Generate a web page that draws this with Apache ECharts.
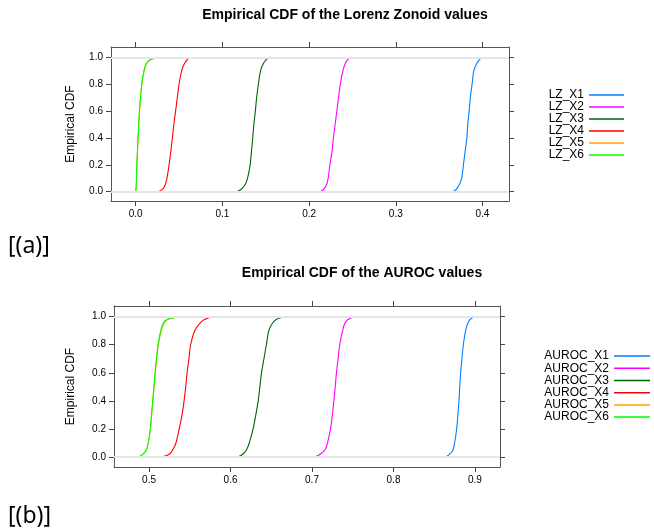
<!DOCTYPE html>
<html>
<head>
<meta charset="utf-8">
<script src="https://cdn.jsdelivr.net/npm/echarts@6/dist/echarts.min.js"></script>
<style>html,body{margin:0;padding:0;background:#fff;}#c{width:654px;height:530px;}</style>
</head>
<body>
<div id="c"></div>
<script>
// cumulative probability levels at which quantiles were read
const probs = [0, 0.02, 0.05, 0.1, 0.2, 0.3, 0.4, 0.5, 0.6, 0.7, 0.8, 0.9, 0.95, 0.98, 1];

// Lorenz Zonoid quantiles
const lzNames = ['LZ_X1', 'LZ_X2', 'LZ_X3', 'LZ_X4', 'LZ_X5', 'LZ_X6'];
const lzX1 = [0.366, 0.370, 0.373, 0.376, 0.378, 0.380, 0.382, 0.383, 0.3846, 0.386, 0.388, 0.390, 0.393, 0.396, 0.400];
const lzX2 = [0.213, 0.217, 0.220, 0.222, 0.224, 0.2265, 0.228, 0.230, 0.232, 0.234, 0.236, 0.239, 0.2415, 0.244, 0.249];
const lzX3 = [0.117, 0.122, 0.126, 0.129, 0.132, 0.1335, 0.135, 0.1363, 0.138, 0.1395, 0.1415, 0.144, 0.147, 0.150, 0.155];
const lzX4 = [0.026, 0.031, 0.034, 0.036, 0.0385, 0.0405, 0.0423, 0.044, 0.046, 0.048, 0.050, 0.053, 0.056, 0.059, 0.063];
const lzX5 = [0.0, 0.0003, 0.0006, 0.0009, 0.0014, 0.002, 0.0028, 0.0036, 0.0044, 0.0056, 0.0071, 0.0097, 0.0123, 0.0165, 0.025];
const lzX6 = [0.0, 0.0003, 0.0006, 0.0009, 0.0013, 0.002, 0.0027, 0.0035, 0.0043, 0.0055, 0.007, 0.0095, 0.012, 0.016, 0.026];

// AUROC quantiles
const auNames = ['AUROC_X1', 'AUROC_X2', 'AUROC_X3', 'AUROC_X4', 'AUROC_X5', 'AUROC_X6'];
const auX1 = [0.864, 0.869, 0.873, 0.875, 0.8775, 0.879, 0.8803, 0.8813, 0.8824, 0.884, 0.8857, 0.8885, 0.891, 0.894, 0.899];
const auX2 = [0.7035, 0.710, 0.7158, 0.719, 0.7227, 0.725, 0.7268, 0.7285, 0.730, 0.732, 0.734, 0.7375, 0.740, 0.744, 0.752];
const auX3 = [0.609, 0.615, 0.6195, 0.623, 0.6277, 0.631, 0.634, 0.636, 0.638, 0.641, 0.644, 0.647, 0.651, 0.656, 0.666];
const auX4 = [0.516, 0.525, 0.529, 0.533, 0.537, 0.5405, 0.543, 0.545, 0.5467, 0.549, 0.551, 0.556, 0.562, 0.568, 0.578];
const auX5 = [0.4875, 0.4925, 0.4965, 0.499, 0.5016, 0.5032, 0.5047, 0.5062, 0.5077, 0.5095, 0.5115, 0.5150, 0.518, 0.523, 0.537];
const auX6 = [0.4877, 0.4926, 0.4967, 0.499, 0.5016, 0.503, 0.5045, 0.506, 0.5074, 0.509, 0.511, 0.5143, 0.517, 0.522, 0.5377];

// tick labels
const lzTicks = [0, 0.1, 0.2, 0.3, 0.4];
const auTicks = [0.5, 0.6, 0.7, 0.8, 0.9];
const yTicks = [0, 0.2, 0.4, 0.6, 0.8, 1.0];

const colors = ['#0080ff', '#ff00ff', '#006400', '#ff0000', '#ffa500', '#00ff00'];
const FONT = 'Liberation Sans, Arial, sans-serif';

const chart = echarts.init(document.getElementById('c'));

function pairs(xs) { return xs.map((x, i) => [x, probs[i]]); }

function mkX(gi, pos, ticks, min, max, labels) {
  return {
    type: 'value', gridIndex: gi, position: pos, min: min, max: max,
    axisLine: { show: true, onZero: false, lineStyle: { color: '#555', width: 1 } },
    axisTick: { show: true, customValues: ticks, length: 5, inside: false, lineStyle: { color: '#444' } },
    axisLabel: { show: labels, customValues: ticks, color: '#000', fontSize: 10, fontFamily: FONT, margin: 8,
      formatter: v => v.toFixed(1) },
    splitLine: { show: false }
  };
}
function mkY(gi, pos, min, max, labels, name, gap) {
  return {
    type: 'value', gridIndex: gi, position: pos, min: min, max: max,
    name: name, nameLocation: 'middle', nameGap: gap, nameRotate: 90,
    nameTextStyle: { color: '#000', fontSize: 12, fontFamily: FONT },
    axisLine: { show: true, onZero: false, lineStyle: { color: '#555', width: 1 } },
    axisTick: { show: true, customValues: yTicks, length: 5, inside: false, lineStyle: { color: '#444' } },
    axisLabel: { show: labels, customValues: yTicks, color: '#000', fontSize: 10, fontFamily: FONT, margin: 8,
      formatter: v => v.toFixed(1) },
    splitLine: { show: false }
  };
}

const refLine = {
  silent: true, symbol: 'none', label: { show: false },
  lineStyle: { color: '#e6e6e6', width: 2, type: 'solid' },
  data: [{ yAxis: 0 }, { yAxis: 1 }]
};

const lzData = [lzX1, lzX2, lzX3, lzX4, lzX5, lzX6];
const auData = [auX1, auX2, auX3, auX4, auX5, auX6];

const series = [];
// reference lines (drawn beneath curves)
series.push({ type: 'line', xAxisIndex: 0, yAxisIndex: 0, data: [], markLine: refLine, silent: true, z: 1 });
series.push({ type: 'line', xAxisIndex: 2, yAxisIndex: 2, data: [], markLine: refLine, silent: true, z: 1 });
lzData.forEach((d, i) => series.push({
  name: lzNames[i], type: 'line', xAxisIndex: 0, yAxisIndex: 0, data: pairs(d),
  showSymbol: false, smooth: 0.3, color: colors[i], lineStyle: { width: 1.1, color: colors[i] }, z: 3
}));
auData.forEach((d, i) => series.push({
  name: auNames[i], type: 'line', xAxisIndex: 2, yAxisIndex: 2, data: pairs(d),
  showSymbol: false, smooth: 0.3, color: colors[i], lineStyle: { width: 1.1, color: colors[i] }, z: 3
}));

const option = {
  animation: false,
  backgroundColor: '#fff',
  grid: [
    { left: 111, top: 47, width: 398, height: 154, show: false },
    { left: 114, top: 306, width: 386, height: 161, show: false }
  ],
  xAxis: [
    mkX(0, 'bottom', lzTicks, -0.0285, 0.4306, true),
    mkX(0, 'top', lzTicks, -0.0285, 0.4306, false),
    mkX(1, 'bottom', auTicks, 0.457, 0.9307, true),
    mkX(1, 'top', auTicks, 0.457, 0.9307, false)
  ],
  yAxis: [
    mkY(0, 'left', -0.069, 1.077, true, 'Empirical CDF', 34),
    mkY(0, 'right', -0.069, 1.077, false, '', 0),
    mkY(1, 'left', -0.071, 1.076, true, 'Empirical CDF', 37),
    mkY(1, 'right', -0.071, 1.076, false, '', 0)
  ],
  legend: [
    {
      data: lzNames, left: 539, top: 89, orient: 'vertical', align: 'right',
      icon: 'rect', itemWidth: 35, itemHeight: 1.5, itemGap: 0, padding: 0,
      selectedMode: false,
      textStyle: { color: '#000', fontSize: 12, fontFamily: FONT, lineHeight: 11.75, width: 45, padding: 0 }
    },
    {
      data: auNames, left: 532, top: 350, orient: 'vertical', align: 'right',
      icon: 'rect', itemWidth: 36, itemHeight: 1.5, itemGap: 0, padding: 0,
      selectedMode: false,
      textStyle: { color: '#000', fontSize: 12, fontFamily: FONT, lineHeight: 12.2, width: 77, padding: 0 }
    }
  ],
  graphic: [
    { type: 'text', x: 345, y: 15, style: { text: 'Empirical CDF of the Lorenz Zonoid values', textAlign: 'center', textVerticalAlign: 'middle', font: 'bold 14px Liberation Sans, Arial, sans-serif', fill: '#000' } },
    { type: 'text', x: 362, y: 273, style: { text: 'Empirical CDF of the AUROC values', textAlign: 'center', textVerticalAlign: 'middle', font: 'bold 14px Liberation Sans, Arial, sans-serif', fill: '#000' } },
    { type: 'text', x: 8, y: 246, style: { text: '[(a)]', textAlign: 'left', textVerticalAlign: 'middle', font: '23px Noto Sans, sans-serif', fill: '#000' } },
    { type: 'text', x: 8, y: 516, style: { text: '[(b)]', textAlign: 'left', textVerticalAlign: 'middle', font: '23px Noto Sans, sans-serif', fill: '#000' } }
  ],
  series: series
};
chart.setOption(option);
</script>
</body>
</html>
